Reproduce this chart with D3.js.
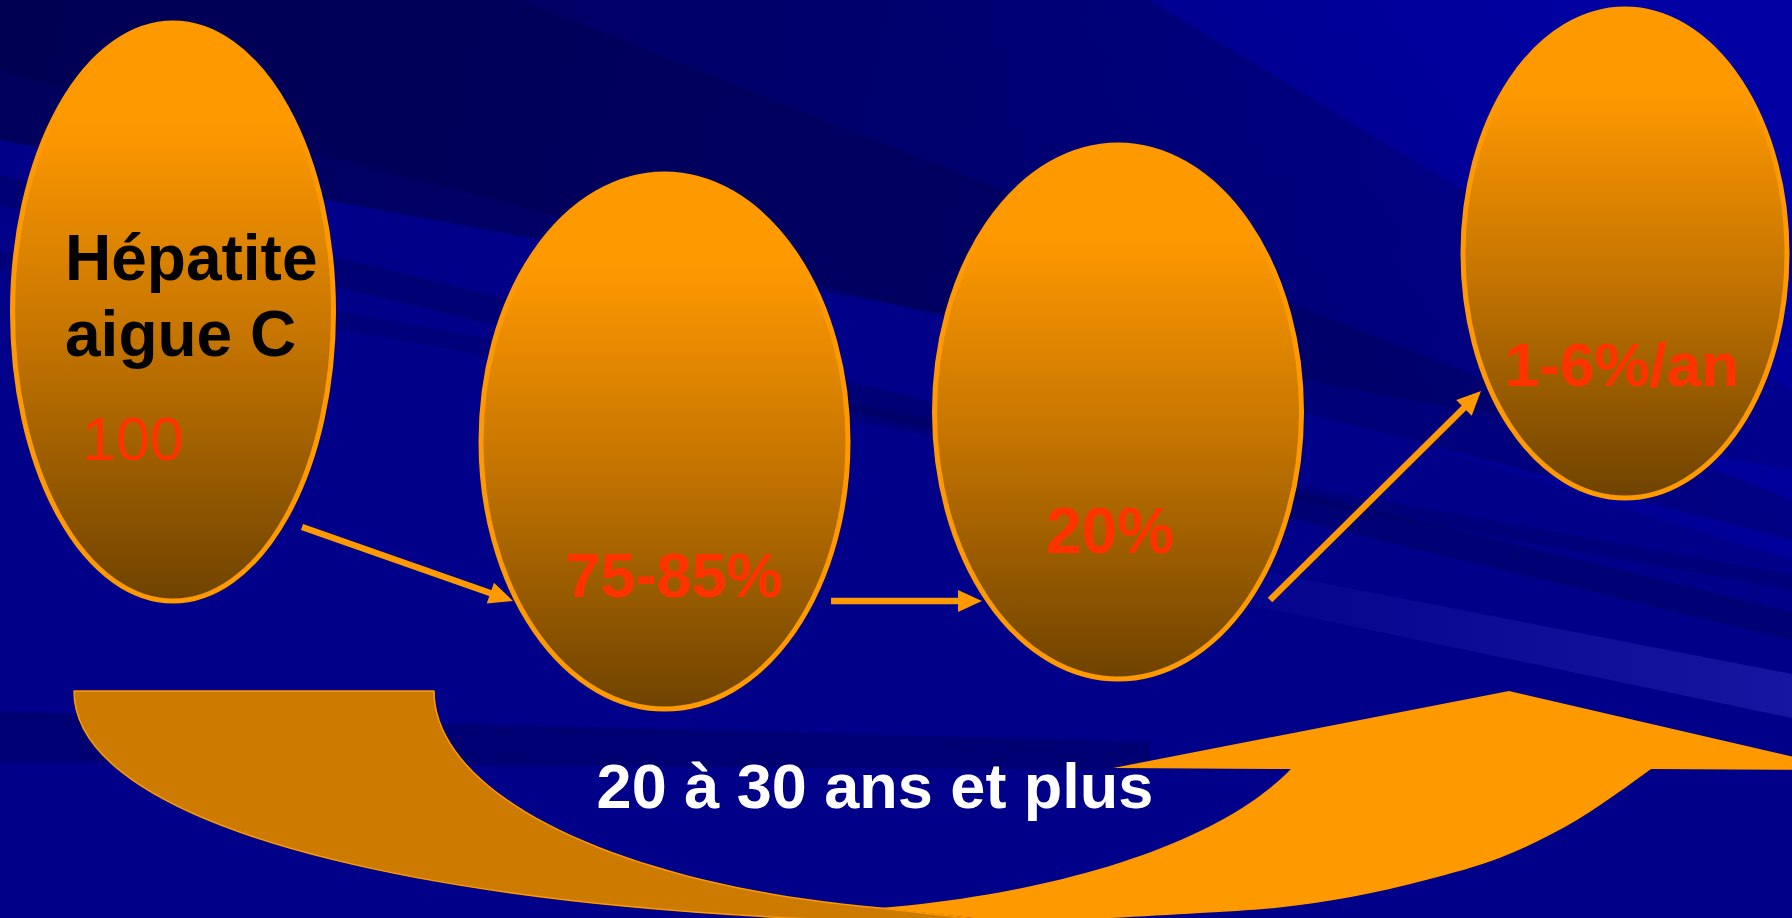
<!DOCTYPE html>
<html>
<head>
<meta charset="utf-8">
<script src="https://cdn.jsdelivr.net/npm/d3@7"></script>
<style>
  html, body { margin: 0; padding: 0; background: #000088; overflow: hidden; }
  svg { display: block; }
</style>
</head>
<body>
<svg id="chart" width="1792" height="918"></svg>
<script>
// Natural history of hepatitis C: four stages linked by arrows,
// with a long curved arrow underneath for the time span.
const stageTitles = [["Hépatite", "aigue C"], [], [], []];
const stageValues = ["100", "75-85%", "20%", "1-6%/an"];
const durationLabel = "20 à 30 ans et plus";

// ---- layout ----------------------------------------------------------
const W = 1792, H = 918;
const ORANGE = "#ff9900", DARK_ORANGE = "#cc7a00", RED = "#ff3300";
const FONT = "'Liberation Sans', Arial, sans-serif";

const ovals = [
  { cx: 173,  cy: 312,   rx: 160.5, ry: 289 },
  { cx: 664.5, cy: 441.5, rx: 183.5, ry: 267.5 },
  { cx: 1118, cy: 412,   rx: 183.5, ry: 267 },
  { cx: 1625, cy: 253.5, rx: 162,   ry: 244.5 }
];
const valueStyle = [
  { x: 82,   y: 460, anchor: "start",  size: 61, weight: "normal" },
  { x: 674,  y: 597, anchor: "middle", size: 63, weight: "bold" },
  { x: 1110, y: 553, anchor: "middle", size: 64, weight: "bold" },
  { x: 1622, y: 386, anchor: "middle", size: 62, weight: "bold" }
];
const titleStyle = { x: 65, y: 280, lineGap: 76, size: 64 };
const connectors = [
  { from: [302, 527],  to: [513, 601] },
  { from: [831, 601],  to: [982, 601] },
  { from: [1270, 600], to: [1481, 391] }
];

const svg = d3.select("#chart");
const defs = svg.append("defs");
const poly = d3.line();

// ---- background ------------------------------------------------------
function linGrad(id, x1, y1, x2, y2, stops) {
  const g = defs.append("linearGradient").attr("id", id)
    .attr("gradientUnits", "userSpaceOnUse")
    .attr("x1", x1).attr("y1", y1).attr("x2", x2).attr("y2", y2);
  stops.forEach(([o, c, a]) => g.append("stop").attr("offset", o)
    .attr("stop-color", c).attr("stop-opacity", a));
}
linGrad("bgLight", 1150, 360, 1650, 0, [[0, "#0000a8", 0], [1, "#0000a8", 0.85]]);
linGrad("bgDark", 0, 0, 1792, 420, [[0, "#000030", 0.5], [0.6, "#000030", 0.25], [1, "#000030", 0.15]]);
linGrad("streakLight", 1130, 0, 1792, 0, [[0, "#3030c0", 0], [1, "#3030c0", 0.45]]);

svg.append("rect").attr("width", W).attr("height", H).attr("fill", "#000088");

const bgShapes = [
  { pts: [[850, 0], [1792, 0], [1792, 560], [1150, 360]], fill: "url(#bgLight)", op: 1 },
  { pts: [[0, 0], [1150, 0], [1792, 390], [1792, 470], [0, 140]], fill: "url(#bgDark)", op: 1 },
  { pts: [[0, 0], [520, 0], [1792, 500], [1792, 540], [0, 70]], fill: "#000030", op: 0.22 },
  { pts: [[0, 175], [0, 205], [1792, 640], [1792, 612]], fill: "#000030", op: 0.22 },
  { pts: [[0, 250], [0, 268], [1792, 590], [1792, 575]], fill: "#000030", op: 0.14 },
  { pts: [[0, 712], [0, 762], [1150, 770], [1150, 742]], fill: "#000030", op: 0.25 },
  { pts: [[1140, 548], [1792, 674], [1792, 718], [1140, 582]], fill: "url(#streakLight)", op: 1 }
];
svg.append("g").selectAll("path").data(bgShapes).join("path")
  .attr("d", d => poly(d.pts) + "Z")
  .attr("fill", d => d.fill)
  .attr("opacity", d => d.op);

// ---- curved time arrow -----------------------------------------------
const smooth = d3.line().curve(d3.curveCatmullRom.alpha(0.5));
const join = (...parts) => parts.map((p, i) => i === 0 ? p : p.replace(/^M/, "L")).join("");
const arcPts = (e, t0, t1, n = 40) => d3.range(n + 1).map(i => {
  const t = t0 + (i / n) * (t1 - t0);
  return [e.cx + e.rx * Math.cos(t), e.cy + e.ry * Math.sin(t)];
});

// back (shaded) half of the band: outer sweep is one cubic curve
const backOuter = d3.path();
backOuter.moveTo(74, 691);
backOuter.bezierCurveTo(74, 830, 448, 923, 1010, 923);
const backInnerArc = { cx: 1000, cy: 691, rx: 566, ry: 222 };
const innerEnd = Math.acos((880 - 1000) / 566);
const backInner = arcPts(backInnerArc, innerEnd, Math.PI);
svg.append("path")
  .attr("d", join(backOuter.toString(), poly([[1010, 923], backInner[0]]), poly(backInner)) + "Z")
  .attr("fill", DARK_ORANGE)
  .attr("stroke", ORANGE)
  .attr("stroke-width", 1.5)
  .attr("stroke-linejoin", "round");

// front half rising to the arrowhead
const headPts = [[1291, 769], [1113, 768], [1509, 691], [1850, 770], [1651, 769]];
const frontOuter = [[1651, 769], [1577, 820], [1502, 857], [1426, 880], [1351, 897],
                    [1275, 908], [1200, 913], [1100, 918.5], [1010, 922]];
const frontInnerArc = { cx: 761, cy: 691, rx: 566, ry: 222 };
const frontInner = arcPts(frontInnerArc, Math.acos((880 - 761) / 566), Math.asin(78 / 222));
svg.append("path")
  .attr("d", join(poly(headPts), smooth(frontOuter), poly([[1010, 922], frontInner[0]]), poly(frontInner)) + "Z")
  .attr("fill", ORANGE);

// ---- connector arrows ------------------------------------------------
const arrowG = svg.append("g");
connectors.forEach(c => {
  const [x0, y0] = c.from, [x1, y1] = c.to;
  const len = Math.hypot(x1 - x0, y1 - y0);
  const ux = (x1 - x0) / len, uy = (y1 - y0) / len;
  const headLen = 24, headHalf = 11;
  const bx = x1 - ux * headLen, by = y1 - uy * headLen;
  arrowG.append("path")
    .attr("d", poly([[x0, y0], [bx + ux * 2, by + uy * 2]]))
    .attr("stroke", ORANGE).attr("stroke-width", 6.5).attr("fill", "none");
  arrowG.append("path")
    .attr("d", poly([[x1, y1], [bx - uy * headHalf, by + ux * headHalf], [bx + uy * headHalf, by - ux * headHalf]]) + "Z")
    .attr("fill", ORANGE);
});

// ---- stage ovals -----------------------------------------------------
const ovalFill = defs.append("linearGradient").attr("id", "ovalFill")
  .attr("x1", 0).attr("y1", 0).attr("x2", 0).attr("y2", 1);
[[0, "#ff9900"], [0.17, "#ff9900"], [0.55, "#c47400"], [1, "#6e4300"]].forEach(([o, c]) =>
  ovalFill.append("stop").attr("offset", o).attr("stop-color", c));

const stages = stageValues.map((v, i) => ({ value: v, title: stageTitles[i], oval: ovals[i], vs: valueStyle[i] }));

const stageG = svg.append("g").selectAll("g").data(stages).join("g");
stageG.append("ellipse")
  .attr("cx", d => d.oval.cx).attr("cy", d => d.oval.cy)
  .attr("rx", d => d.oval.rx).attr("ry", d => d.oval.ry)
  .attr("fill", "url(#ovalFill)")
  .attr("stroke", ORANGE).attr("stroke-width", 5);

stageG.filter(d => d.title.length).append("text")
  .attr("font-family", FONT).attr("font-weight", "bold")
  .attr("font-size", titleStyle.size).attr("fill", "#000")
  .selectAll("tspan").data(d => d.title).join("tspan")
  .attr("x", titleStyle.x)
  .attr("y", (t, i) => titleStyle.y + i * titleStyle.lineGap)
  .text(t => t);

stageG.append("text")
  .attr("x", d => d.vs.x).attr("y", d => d.vs.y)
  .attr("text-anchor", d => d.vs.anchor)
  .attr("font-family", FONT).attr("font-weight", d => d.vs.weight)
  .attr("font-size", d => d.vs.size).attr("fill", RED)
  .text(d => d.value);

// ---- duration label --------------------------------------------------
svg.append("text")
  .attr("x", 875).attr("y", 808).attr("text-anchor", "middle")
  .attr("font-family", FONT).attr("font-weight", "bold").attr("font-size", 63)
  .attr("fill", "#fff")
  .text(durationLabel);
</script>
</body>
</html>
